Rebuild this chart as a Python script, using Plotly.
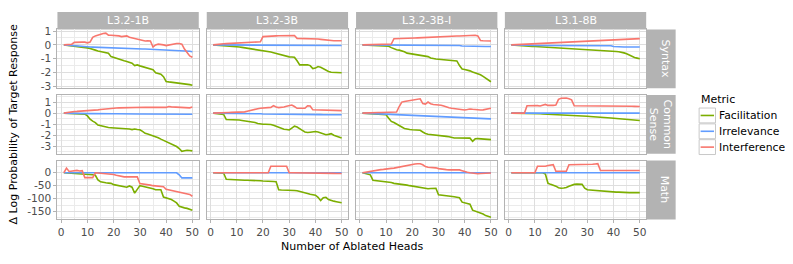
import plotly.graph_objects as go

# ---------------- data ----------------
heads = list(range(1, 51))
models = ["L3.2-1B", "L3.2-3B", "L3.2-3B-I", "L3.1-8B"]
tasks = ["Syntax", "Common<br>Sense", "Math"]
metrics = ["Facilitation", "Irrelevance", "Interference"]
metric_colors = ["#7CAE00", "#619CFF", "#F8766D"]
legend_title = "Metric"

x_tickvals = [0, 10, 20, 30, 40, 50]
x_ticktext = ["0", "10", "20", "30", "40", "50"]
y_tickvals_syntax = [-3, -2, -1, 0, 1]
y_ticktext_syntax = ["-3", "-2", "-1", "0", "1"]
y_tickvals_cs = [-3, -2, -1, 0, 1]
y_ticktext_cs = ["-3", "-2", "-1", "0", "1"]
y_tickvals_math = [-150, -100, -50, 0]
y_ticktext_math = ["-150", "-100", "-50", "0"]

# Syntax
syn_1b_fac = [0, -0.02, -0.04, -0.06, -0.1, -0.12, -0.15, -0.17, -0.2, -0.22,
              -0.26, -0.3, -0.38, -0.44, -0.47, -0.5, -0.53, -0.6, -0.85, -0.92,
              -0.95, -1.02, -1.08, -1.15, -1.2, -1.27, -1.33, -1.5, -1.45, -1.52,
              -1.57, -1.62, -1.66, -1.72, -1.8, -2.02, -2.08, -2.12, -2.3, -2.65,
              -2.68, -2.7, -2.75, -2.78, -2.8, -2.83, -2.85, -2.87, -2.88, -2.92]
syn_1b_irr = [0, -0.02, -0.04, -0.06, -0.08, -0.1, -0.11, -0.12, -0.13, -0.14,
              -0.15, -0.16, -0.17, -0.18, -0.19, -0.2, -0.2, -0.21, -0.21, -0.22,
              -0.22, -0.23, -0.23, -0.24, -0.25, -0.25, -0.26, -0.27, -0.28, -0.29,
              -0.3, -0.3, -0.31, -0.32, -0.33, -0.34, -0.35, -0.35, -0.36, -0.36,
              -0.37, -0.37, -0.37, -0.38, -0.38, -0.4, -0.42, -0.44, -0.46, -0.5]
syn_1b_int = [0, 0.03, 0.05, 0.05, 0.18, 0.2, 0.2, 0.2, 0.2, 0.15,
              0.2, 0.55, 0.65, 0.72, 0.75, 0.82, 0.85, 0.7, 0.7, 0.7,
              0.68, 0.65, 0.6, 0.65, 0.65, 0.55, 0.5, 0.45, 0.38, 0.35,
              0.3, 0.28, 0.3, 0.28, -0.15, 0.0, 0.05, 0.05, 0.0, -0.05,
              0.0, 0.05, 0.05, 0.1, 0.1, 0.05, -0.3, -0.6, -0.8, -0.9]

syn_3b_fac = [0, -0.01, -0.02, -0.03, -0.04, -0.05, -0.06, -0.08, -0.1, -0.13,
              -0.15, -0.18, -0.21, -0.24, -0.27, -0.29, -0.31, -0.33, -0.35, -0.38,
              -0.41, -0.46, -0.52, -0.57, -0.62, -0.66, -0.7, -0.76, -0.84, -0.87,
              -0.88, -0.9, -1.15, -1.45, -1.45, -1.44, -1.44, -1.5, -1.72, -1.68,
              -1.57, -1.62, -1.74, -1.82, -1.92, -1.98, -2.0, -2.0, -2.01, -2.02]
syn_3b_irr = [0, 0, 0, -0.01, -0.01, -0.01, -0.01, -0.01, -0.01, -0.02,
              -0.02, -0.02, -0.02, -0.02, -0.02, -0.02, -0.02, -0.02, -0.02, -0.02,
              -0.03, -0.03, -0.03, -0.03, -0.03, -0.03, -0.03, -0.03, -0.03, -0.03,
              -0.04, -0.04, -0.04, -0.04, -0.04, -0.04, -0.04, -0.04, -0.04, -0.04,
              -0.04, -0.04, -0.04, -0.04, -0.04, -0.05, -0.05, -0.05, -0.05, -0.05]
syn_3b_int = [0, 0.03, 0.05, 0.06, 0.08, 0.09, 0.1, 0.11, 0.12, 0.13,
              0.14, 0.15, 0.16, 0.17, 0.18, 0.19, 0.2, 0.21, 0.22, 0.6,
              0.62, 0.62, 0.63, 0.64, 0.65, 0.66, 0.67, 0.67, 0.68, 0.68,
              0.68, 0.68, 0.47, 0.47, 0.47, 0.47, 0.47, 0.46, 0.46, 0.44,
              0.42, 0.4, 0.37, 0.34, 0.32, 0.31, 0.3, 0.3, 0.3, 0.3]

syn_3bi_fac = [0, -0.01, -0.01, -0.02, -0.02, -0.03, -0.03, -0.04, -0.05, -0.07,
               -0.1, -0.2, -0.3, -0.35, -0.38, -0.43, -0.5, -0.6, -0.63, -0.67,
               -0.7, -0.72, -0.72, -0.75, -0.78, -0.85, -0.95, -1.0, -1.02, -1.04,
               -1.06, -1.07, -1.09, -1.1, -1.12, -1.14, -1.16, -1.5, -1.75, -1.78,
               -1.81, -1.88, -1.96, -2.02, -2.1, -2.16, -2.28, -2.4, -2.53, -2.67]
syn_3bi_irr = [0, 0, 0, 0, 0, -0.01, -0.01, -0.01, -0.01, -0.01,
               -0.01, -0.01, -0.01, -0.01, -0.01, -0.02, -0.02, -0.02, -0.02, -0.02,
               -0.02, -0.02, -0.02, -0.02, -0.02, -0.03, -0.03, -0.03, -0.03, -0.03,
               -0.03, -0.03, -0.03, -0.04, -0.04, -0.04, -0.04, -0.05, -0.08, -0.09,
               -0.1, -0.1, -0.1, -0.11, -0.11, -0.11, -0.12, -0.12, -0.12, -0.12]
syn_3bi_int = [0, 0.01, 0.02, 0.02, 0.03, 0.03, 0.04, 0.04, 0.05, 0.05,
               0.05, 0.06, 0.45, 0.45, 0.45, 0.46, 0.47, 0.48, 0.5, 0.5,
               0.5, 0.51, 0.52, 0.53, 0.54, 0.55, 0.56, 0.57, 0.58, 0.58,
               0.6, 0.62, 0.64, 0.65, 0.67, 0.65, 0.64, 0.64, 0.65, 0.65,
               0.65, 0.66, 0.68, 0.7, 0.65, 0.32, 0.3, 0.3, 0.29, 0.28]

syn_8b_fac = [0, -0.02, -0.03, -0.05, -0.06, -0.07, -0.08, -0.1, -0.11, -0.12,
              -0.13, -0.15, -0.16, -0.17, -0.19, -0.2, -0.21, -0.22, -0.24, -0.25,
              -0.26, -0.27, -0.28, -0.3, -0.31, -0.32, -0.33, -0.35, -0.35, -0.36,
              -0.37, -0.37, -0.38, -0.4, -0.41, -0.42, -0.44, -0.45, -0.46, -0.47,
              -0.48, -0.5, -0.53, -0.58, -0.65, -0.75, -0.85, -0.92, -0.96, -1.0]
syn_8b_irr = [0, -0.01, -0.02, -0.03, -0.04, -0.04, -0.05, -0.05, -0.05, -0.05,
              -0.05, -0.05, -0.05, -0.05, -0.06, -0.05, -0.05, -0.05, -0.06, -0.05,
              -0.05, -0.05, -0.06, -0.05, -0.05, -0.05, -0.05, -0.06, -0.05, -0.05,
              -0.05, -0.05, -0.05, -0.06, -0.05, -0.05, -0.05, -0.06, -0.06, -0.12,
              -0.14, -0.15, -0.15, -0.15, -0.15, -0.15, -0.15, -0.15, -0.15, -0.15]
syn_8b_int = [0, 0.01, 0.02, 0.03, 0.04, 0.05, 0.05, 0.06, 0.07, 0.08,
              0.09, 0.1, 0.11, 0.12, 0.13, 0.14, 0.15, 0.16, 0.17, 0.18,
              0.19, 0.2, 0.21, 0.22, 0.23, 0.24, 0.25, 0.26, 0.27, 0.28,
              0.29, 0.3, 0.31, 0.32, 0.33, 0.34, 0.35, 0.36, 0.37, 0.38,
              0.39, 0.4, 0.41, 0.42, 0.42, 0.43, 0.43, 0.44, 0.44, 0.45]

# Common Sense
cs_1b_fac = [0, -0.01, -0.02, -0.03, -0.04, -0.05, -0.06, -0.07, -0.09, -0.25,
             -0.55, -0.72, -0.85, -1.08, -1.15, -1.22, -1.26, -1.3, -1.32, -1.33,
             -1.34, -1.35, -1.35, -1.36, -1.38, -1.43, -1.49, -1.43, -1.47, -1.5,
             -1.65, -1.82, -1.88, -1.95, -2.04, -2.12, -2.22, -2.35, -2.45, -2.57,
             -2.68, -2.78, -2.9, -3.02, -3.2, -3.45, -3.4, -3.35, -3.38, -3.41]
cs_1b_irr = [0, -0.01, -0.01, -0.02, -0.02, -0.02, -0.03, -0.03, -0.03, -0.04,
             -0.04, -0.04, -0.05, -0.05, -0.05, -0.05, -0.06, -0.06, -0.06, -0.06,
             -0.06, -0.07, -0.07, -0.07, -0.07, -0.07, -0.08, -0.08, -0.08, -0.08,
             -0.08, -0.08, -0.09, -0.09, -0.09, -0.09, -0.09, -0.09, -0.09, -0.1,
             -0.1, -0.1, -0.1, -0.1, -0.1, -0.1, -0.1, -0.1, -0.1, -0.1]
cs_1b_int = [0, 0.05, 0.1, 0.14, 0.15, 0.16, 0.17, 0.18, 0.19, 0.2,
             0.21, 0.23, 0.26, 0.3, 0.33, 0.36, 0.4, 0.43, 0.45, 0.46,
             0.47, 0.48, 0.49, 0.5, 0.5, 0.51, 0.52, 0.52, 0.52, 0.52,
             0.52, 0.53, 0.52, 0.53, 0.52, 0.53, 0.52, 0.52, 0.53, 0.52,
             0.6, 0.57, 0.55, 0.53, 0.52, 0.5, 0.47, 0.44, 0.48, 0.55]

cs_3b_fac = [0, -0.02, -0.04, -0.06, -0.12, -0.58, -0.58, -0.58, -0.58, -0.6,
             -0.62, -0.66, -0.7, -0.72, -0.75, -0.78, -0.85, -0.93, -0.98, -1.0,
             -1.0, -1.01, -1.02, -1.1, -1.2, -1.32, -1.4, -1.45, -1.48, -1.52,
             -1.35, -1.18, -1.25, -1.37, -1.55, -1.7, -1.75, -1.72, -1.68, -1.66,
             -1.7, -1.78, -1.86, -1.95, -1.92, -1.85, -2.0, -2.08, -2.16, -2.24]
cs_3b_irr = [0, 0, -0.01, -0.01, -0.02, -0.02, -0.02, -0.03, -0.03, -0.03,
             -0.04, -0.04, -0.04, -0.05, -0.05, -0.05, -0.06, -0.06, -0.06, -0.07,
             -0.07, -0.07, -0.08, -0.08, -0.08, -0.09, -0.09, -0.09, -0.1, -0.1,
             -0.1, -0.11, -0.11, -0.11, -0.12, -0.12, -0.12, -0.12, -0.13, -0.13,
             -0.13, -0.13, -0.14, -0.14, -0.14, -0.14, -0.15, -0.15, -0.15, -0.15]
cs_3b_int = [0, 0.02, 0.03, 0.04, 0.05, 0.05, 0.06, 0.07, 0.07, 0.08,
             0.08, 0.09, 0.12, 0.18, 0.25, 0.3, 0.36, 0.4, 0.44, 0.47,
             0.5, 0.52, 0.52, 0.68, 0.55, 0.5, 0.5, 0.55, 0.62, 0.68,
             0.73, 0.6, 0.44, 0.44, 0.44, 0.44, 0.67, 0.65, 0.3, 0.29,
             0.28, 0.27, 0.27, 0.26, 0.25, 0.25, 0.24, 0.24, 0.23, 0.23]

cs_3bi_fac = [0, -0.02, -0.03, -0.05, -0.06, -0.08, -0.09, -0.11, -0.13, -0.15,
              -0.45, -0.75, -0.85, -0.96, -1.1, -1.25, -1.38, -1.46, -1.47, -1.5,
              -1.52, -1.53, -1.55, -1.7, -1.84, -1.9, -1.92, -1.95, -2.0, -2.02,
              -2.04, -2.06, -2.1, -2.14, -2.2, -2.24, -2.24, -2.24, -2.22, -2.24,
              -2.24, -2.26, -2.54, -2.32, -2.3, -2.32, -2.34, -2.36, -2.37, -2.39]
cs_3bi_irr = [0, -0.01, -0.02, -0.03, -0.04, -0.05, -0.06, -0.07, -0.08, -0.09,
              -0.1, -0.11, -0.12, -0.13, -0.14, -0.15, -0.16, -0.17, -0.18, -0.19,
              -0.2, -0.21, -0.22, -0.24, -0.25, -0.26, -0.27, -0.28, -0.29, -0.3,
              -0.31, -0.32, -0.33, -0.34, -0.35, -0.36, -0.37, -0.38, -0.39, -0.4,
              -0.41, -0.42, -0.43, -0.44, -0.45, -0.46, -0.48, -0.49, -0.51, -0.52]
cs_3bi_int = [0, 0.02, 0.03, 0.04, 0.05, 0.05, 0.06, 0.06, 0.06, 0.06,
              0.06, 0.07, 0.07, 0.1, 0.6, 1.0, 1.05, 1.1, 1.15, 1.18,
              1.2, 1.25, 1.3, 0.87, 0.82, 1.0, 0.85, 0.78, 0.78, 0.75,
              0.72, 0.65, 0.55, 0.48, 0.44, 0.42, 0.4, 0.35, 0.3, 0.29,
              0.33, 0.38, 0.35, 0.32, 0.3, 0.29, 0.3, 0.33, 0.38, 0.44]

cs_8b_fac = [0, 0, 0, 0, 0, 0, -0.01, -0.02, -0.03, -0.04,
             -0.05, -0.06, -0.07, -0.08, -0.09, -0.1, -0.11, -0.12, -0.13, -0.14,
             -0.14, -0.15, -0.15, -0.17, -0.19, -0.21, -0.23, -0.25, -0.27, -0.28,
             -0.3, -0.31, -0.32, -0.34, -0.35, -0.38, -0.4, -0.42, -0.44, -0.46,
             -0.48, -0.5, -0.52, -0.55, -0.57, -0.59, -0.61, -0.63, -0.65, -0.67]
cs_8b_irr = [0, 0, 0, 0, 0, 0, 0, 0, 0, 0,
             0, 0, 0, 0, 0, 0, 0, 0, 0, 0,
             0, 0, 0, 0, 0, 0, 0, 0, 0, 0,
             0, 0, 0, 0, 0, 0, 0, 0, 0, 0,
             0, 0, 0, 0, 0, 0, 0, 0, 0, 0]
cs_8b_int = [0, 0, 0, 0, 0, 0, 0.67, 0.67, 0.72, 0.73,
             0.68, 0.65, 0.75, 0.79, 0.7, 0.67, 0.7, 0.73, 1.25, 1.35,
             1.37, 1.37, 1.3, 1.2, 0.67, 0.67, 0.67, 0.68, 0.67, 0.67,
             0.68, 0.67, 0.67, 0.67, 0.66, 0.67, 0.66, 0.67, 0.66, 0.66,
             0.66, 0.65, 0.65, 0.64, 0.63, 0.62, 0.62, 0.61, 0.6, 0.6]

# Math
math_1b_fac = [0, -0.5, -1, -1.5, -2, -2.5, -3, -4, -5, -6,
               -7, -8, -10, -28, -35, -38, -39, -40, -41, -46,
               -48, -50, -52, -54, -56, -51, -56, -79, -65, -50,
               -52, -54, -56, -58, -62, -66, -66, -66, -94, -97,
               -100, -104, -110, -117, -130, -134, -136, -138, -141, -145]
math_1b_irr = [0, 0, 0, 0, 0, 0, 0, 0, 0, 0,
               0, 0, 0, 0, 0, 0, 0, 0, 0, 0,
               0, 0, 0, 0, 0, 0, 0, 0, 0, 0,
               0, 0, 0, 0, 0, 0, 0, 0, 0, 0,
               0, 0, 0, 0, -8, -20, -20, -20, -20, -20]
math_1b_int = [0, 18, 5, 6, 7, 9, 7, 8, -19, -19,
               -19, -19, 0, -1, -1, -2, -2, -3, -5, -7,
               -10, -12, -15, -16, -16, -16, -16, -16, -16, -42,
               -43, -44, -46, -48, -50, -51, -52, -53, -54, -64,
               -66, -68, -70, -72, -74, -76, -78, -80, -84, -91]

math_3b_fac = [0, 0, 0, -1, -2, -25, -26, -27, -28, -28,
               -29, -29, -29, -29, -29, -30, -30, -31, -31, -32,
               -32, -33, -33, -34, -35, -66, -67, -67, -68, -68,
               -69, -69, -70, -72, -75, -77, -80, -83, -85, -87,
               -95, -108, -97, -95, -104, -108, -110, -112, -114, -116]
math_3b_irr = [0, 0, 0, 0, 0, 0, 0, 0, 0, 0,
               0, 0, 0, 0, 0, 0, 0, 0, 0, 0,
               0, 0, 0, 0, 0, 0, 0, 0, 0, 0,
               0, 0, 0, 0, 0, 0, 0, 0, 0, 0,
               0, 0, 0, 0, 0, 0, 0, 0, 0, 0]
math_3b_int = [0, 0, 0, 0, 0, 0, 0, 0, 0, 0,
               0, 0, 0, 0, 0, 0, 0, 0, 0, 0,
               0, 0, 25, 24, 25, 25, 26, 25, 25, 0,
               0, 0, 0, -0.5, -1, -1, -1, -1, -1.5, -1.5,
               -1.5, -2, -2, -2, -2, -2.5, -2.5, -3, -3, -3]

math_3bi_fac = [0, -2, -4, -8, -29, -30, -31, -32, -33, -34,
                -35, -38, -41, -42, -43, -44, -46, -48, -50, -52,
                -53, -54, -56, -58, -60, -62, -61, -60, -60, -85,
                -86, -87, -88, -89, -91, -93, -95, -97, -114, -116,
                -118, -122, -145, -148, -151, -154, -160, -166, -169, -172]
math_3bi_irr = [0, 0, 0, 0, 0, 0, 0, 0, 0, 0,
                0, 0, 0, 0, 0, 0, 0, 0, 0, 0,
                0, 0, 0, 0, 0, 0, 0, 0, 0, 0,
                0, 0, 0, 0, 0, 0, 0, 0, 0, 0,
                0, 0, 0, 0, 0, 0, 0, 0, 0, 0]
math_3bi_int = [0, 2, 4, 6, 9, 10, 11, 12, 13, 15,
                16, 17, 18, 20, 23, 26, 28, 30, 32, 33,
                34, 35, 35, 31, 24, 21, 21, 21, 19, 16,
                14, 12, 12, 11, 11, 11, 11, 11, 8, 4,
                2, 0, -2, -4, -4, -3, -3, -2, -2, -1]

math_8b_fac = [0, 0, 0, 0, 0, 0, 0, 0, 0, 0,
               0, 0, 0, -5, -41, -45, -48, -52, -58, -60,
               -59, -57, -52, -47, -45, -44, -44, -45, -60, -66,
               -67, -68, -69, -70, -71, -72, -73, -73, -74, -74,
               -75, -75, -76, -76, -76, -77, -77, -77, -77, -77]
math_8b_irr = [0, 0, 0, 0, 0, 0, 0, 0, 0, 0,
               0, 0, 0, 0, 0, 0, 0, 0, 0, 0,
               0, 0, 0, 0, 0, 0, 0, 0, 0, 0,
               0, 0, 0, 0, 0, 0, 0, 0, 0, 0,
               0, 0, 0, 0, 0, 0, 0, 0, 0, 0]
math_8b_int = [0, 0, 0, 0, 0, 0, 0, 0, 0, 0,
               25, 25, 24, 25, 28, 31, 31, 6, 6, 6,
               6, 6, 31, 31, 32, 32, 32, 32, 33, 33,
               33, 33, 34, 35, 9, 9, 9, 9, 9, 9,
               9, 9, 9, 9, 9, 9, 9, 9, 9, 9]

# table built from the named arrays: [task][model] -> (fac, irr, int)
table = [
    [(syn_1b_fac, syn_1b_irr, syn_1b_int), (syn_3b_fac, syn_3b_irr, syn_3b_int),
     (syn_3bi_fac, syn_3bi_irr, syn_3bi_int), (syn_8b_fac, syn_8b_irr, syn_8b_int)],
    [(cs_1b_fac, cs_1b_irr, cs_1b_int), (cs_3b_fac, cs_3b_irr, cs_3b_int),
     (cs_3bi_fac, cs_3bi_irr, cs_3bi_int), (cs_8b_fac, cs_8b_irr, cs_8b_int)],
    [(math_1b_fac, math_1b_irr, math_1b_int), (math_3b_fac, math_3b_irr, math_3b_int),
     (math_3bi_fac, math_3bi_irr, math_3bi_int), (math_8b_fac, math_8b_irr, math_8b_int)],
]
row_ticks = [(y_tickvals_syntax, y_ticktext_syntax),
             (y_tickvals_cs, y_ticktext_cs),
             (y_tickvals_math, y_ticktext_math)]

# ---------------- layout (page pixels) ----------------
PAGE_W, PAGE_H = 793, 264
OFF = 8                      # default body margin of the html page
W, H = PAGE_W - OFF, PAGE_H - OFF
col_left = [57.5, 207.0, 356.5, 505.5]
panel_w = 141.5
row_top = [25.0, 93.0, 161.0]
panel_h = 61.0
strip_top = 7.0
rstrip_w = 29.5

x_range = [-1.45, 52.45]
y_ranges = [[-3.14, 1.12], [-3.68, 1.64], [-181, 47]]
y_minor = [[-2.5, -1.5, -0.5, 0.5],
           [-3.5, -2.5, -1.5, -0.5, 0.5, 1.5],
           [-175, -125, -75, -25, 25]]
x_minor = [5, 15, 25, 35, 45]

GRID = "#DEDEDE"
MINOR = "#EBEBEB"
BORDER = "#B3B3B3"
FONT = "DejaVu Sans"
TICKFONT = dict(family=FONT, size=10.6, color="#4D4D4D")


def px(x):
    return (x - OFF) / W


def py(y):
    return 1 - (y - OFF) / H


fig = go.Figure()
layout = dict(
    width=W, height=H, autosize=False,
    margin=dict(l=0, r=0, t=0, b=0, pad=0),
    paper_bgcolor="white", plot_bgcolor="white",
    font=dict(family=FONT, size=11, color="black"),
    showlegend=False,
)

shapes = []
annotations = []

for r in range(3):
    for c in range(4):
        k = r * 4 + c + 1
        sfx = "" if k == 1 else str(k)
        layout["xaxis" + sfx] = dict(
            domain=[px(col_left[c]), px(col_left[c] + panel_w)],
            anchor="y" + sfx, range=x_range,
            tickvals=x_tickvals, ticktext=x_ticktext,
            showticklabels=(r == 2), tickfont=TICKFONT,
            showgrid=True, gridcolor=GRID, gridwidth=0.8,
            minor=dict(tickvals=x_minor, showgrid=True, gridcolor=MINOR, gridwidth=0.6, ticks=""),
            showline=True, mirror=True, linecolor=BORDER, linewidth=1,
            ticks="outside" if r == 2 else "", ticklen=3, tickwidth=0.8, tickcolor=BORDER,
            zeroline=False, fixedrange=True,
        )
        tv, tt = row_ticks[r]
        layout["yaxis" + sfx] = dict(
            domain=[py(row_top[r] + panel_h), py(row_top[r])],
            anchor="x" + sfx, range=y_ranges[r],
            tickvals=tv, ticktext=tt,
            showticklabels=(c == 0), tickfont=TICKFONT,
            showgrid=True, gridcolor=GRID, gridwidth=0.8,
            minor=dict(tickvals=y_minor[r], showgrid=True, gridcolor=MINOR, gridwidth=0.6, ticks=""),
            showline=True, mirror=True, linecolor=BORDER, linewidth=1,
            ticks="outside" if c == 0 else "", ticklen=3, tickwidth=0.8, tickcolor=BORDER,
            zeroline=False, fixedrange=True,
        )
        series = table[r][c]
        for m in range(3):
            fig.add_trace(go.Scatter(
                x=heads, y=series[m], mode="lines",
                name=metrics[m], legendgroup=metrics[m],
                showlegend=False,
                line=dict(color=metric_colors[m], width=1.6),
                xaxis="x" + sfx, yaxis="y" + sfx,
                hoverinfo="skip",
            ))

# column strips
for c in range(4):
    shapes.append(dict(type="rect", xref="paper", yref="paper",
                       x0=px(col_left[c]), x1=px(col_left[c] + panel_w),
                       y0=py(row_top[0]), y1=py(strip_top),
                       fillcolor=BORDER, line=dict(width=0), layer="below"))
    annotations.append(dict(text=models[c], xref="paper", yref="paper",
                            x=px(col_left[c] + panel_w / 2), y=py((strip_top + row_top[0]) / 2),
                            xanchor="center", yanchor="middle", showarrow=False,
                            font=dict(family=FONT, size=11, color="white")))
# row strips
rx0 = col_left[3] + panel_w
for r in range(3):
    shapes.append(dict(type="rect", xref="paper", yref="paper",
                       x0=px(rx0), x1=px(rx0 + rstrip_w),
                       y0=py(row_top[r] + panel_h), y1=py(row_top[r]),
                       fillcolor=BORDER, line=dict(width=0), layer="below"))
    two_lines = "<br>" in tasks[r]
    tx = rx0 + rstrip_w / 2 + (0 if two_lines else 4.5)
    annotations.append(dict(text=tasks[r], xref="paper", yref="paper",
                            x=px(tx), y=py(row_top[r] + panel_h / 2),
                            xanchor="center", yanchor="middle", showarrow=False,
                            textangle=90,
                            font=dict(family=FONT, size=11, color="white")))

# axis titles
annotations.append(dict(text="Number of Ablated Heads", xref="paper", yref="paper",
                        x=px(col_left[0] + (col_left[3] + panel_w - col_left[0]) / 2), y=py(250.5),
                        xanchor="center", yanchor="middle", showarrow=False,
                        font=dict(family=FONT, size=11, color="black")))
annotations.append(dict(text="Δ Log Probability of Target Response", xref="paper", yref="paper",
                        x=px(13), y=py(row_top[0] + (row_top[2] + panel_h - row_top[0]) / 2),
                        xanchor="center", yanchor="middle", showarrow=False, textangle=-90,
                        font=dict(family=FONT, size=11, color="black")))

# legend (ggplot-style keys)
key_x0, key_size, key_top = 700.0, 16.4, 106.0
annotations.append(dict(text=legend_title, xref="paper", yref="paper",
                        x=px(key_x0), y=py(97.5), xanchor="left", yanchor="middle",
                        showarrow=False, font=dict(family=FONT, size=11, color="black")))
for m in range(3):
    y0 = key_top + m * key_size
    shapes.append(dict(type="rect", xref="paper", yref="paper",
                       x0=px(key_x0), x1=px(key_x0 + key_size),
                       y0=py(y0 + key_size - 0.5), y1=py(y0 + 0.5),
                       fillcolor="white", line=dict(color="#C8C8C8", width=1)))
    shapes.append(dict(type="line", xref="paper", yref="paper",
                       x0=px(key_x0 + 1.5), x1=px(key_x0 + key_size - 1.5),
                       y0=py(y0 + key_size / 2), y1=py(y0 + key_size / 2),
                       line=dict(color=metric_colors[m], width=1.6)))
    annotations.append(dict(text=metrics[m], xref="paper", yref="paper",
                            x=px(key_x0 + key_size + 1.5), y=py(y0 + key_size / 2),
                            xanchor="left", yanchor="middle", showarrow=False,
                            font=dict(family=FONT, size=10.8, color="black")))

layout["shapes"] = shapes
layout["annotations"] = annotations
fig.update_layout(**layout)

fig.write_html("out.html")
